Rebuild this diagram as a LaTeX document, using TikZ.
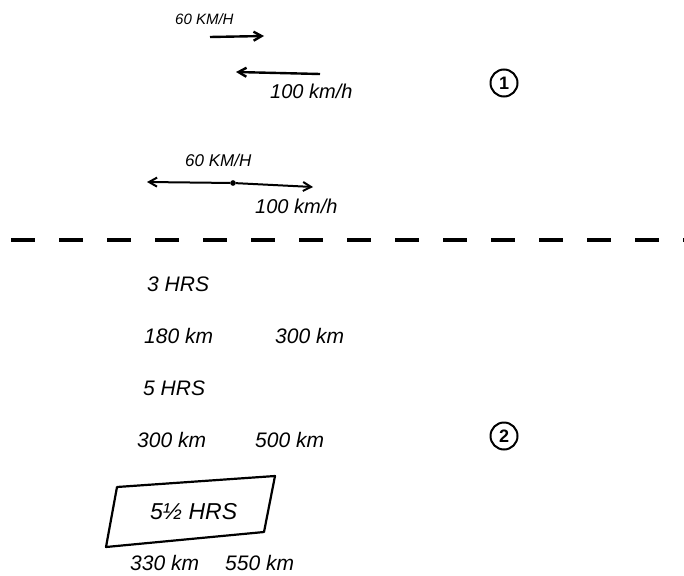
\documentclass[tikz,border=0pt]{standalone}
\usepackage{fontspec}
\setmainfont{Liberation Sans}
\usetikzlibrary{arrows.meta,positioning}

\begin{document}
\begin{tikzpicture}[x=1pt, y=-1pt,
  small/.style={font=\fontsize{15}{15}\selectfont\itshape, inner sep=0pt, anchor=west},
  hand/.style={font=\fontsize{21}{21}\selectfont\itshape, inner sep=0pt, anchor=west},
  speed/.style={-{Straight Barb[length=8pt,width=9pt]}, line width=2.4pt},
  partmark/.style={draw, line width=2pt, circle, minimum size=27pt, inner sep=0pt,
    font=\fontsize{18}{18}\selectfont\bfseries}
]
  \useasboundingbox (0,0) rectangle (684,575);

  % part 1: the two cars
  \node[small] (tA) at (175,19) {60 KM/H};
  \coordinate (a1s) at (210,37);
  \coordinate (a1e) at (264,36);
  \draw[speed] (a1s) -- (a1e);
  \coordinate (a2s) at (320,74);
  \coordinate (a2e) at (236,72);
  \draw[speed] (a2s) -- (a2e);
  \node[hand, font=\fontsize{20}{20}\selectfont\itshape] (tB) at (270,91) {100 km/h};
  \node[partmark] (one) at (504,83) {1};

  \node[small, font=\fontsize{17}{17}\selectfont\itshape] (tC) at (185,160) {60 KM/H};
  \node[circle, fill, inner sep=2pt] (dot) at (233,183) {};
  \coordinate (b1e) at (147,182);
  \coordinate (b2e) at (313,187);
  \draw[speed, line width=2pt] (dot) -- (b1e);
  \draw[speed, line width=2pt] (dot) -- (b2e);
  \node[hand, font=\fontsize{20}{20}\selectfont\itshape] (tD) at (255,206) {100 km/h};

  \coordinate (cutL) at (11,240);
  \coordinate (cutR) at (684,240);
  \draw[line width=3.5pt, dash pattern=on 24pt off 24pt] (cutL) -- (cutR);

  % part 2: times and distances
  \node[hand] (h3) at (147,284) {3 HRS};
  \node[hand] (d180) at (144,336) {180 km};
  \node[hand] (d300a) at (275,336) {300 km};
  \node[hand] (h5) at (143,388) {5 HRS};
  \node[hand] (d300b) at (137,440) {300 km};
  \node[hand] (d500) at (255,440) {500 km};
  \node[partmark] (two) at (504,436) {2};

  \node[hand, font=\fontsize{23}{23}\selectfont\itshape] (h55) at (150,512) {5½ HRS};
  \draw[line width=2.2pt, line join=round] (117,487) -- (275,476) -- (264,532) -- (106,547) -- cycle;
  \node[hand] (d330) at (130,563) {330 km};
  \node[hand] (d550) at (225,563) {550 km};
\end{tikzpicture}
\end{document}
